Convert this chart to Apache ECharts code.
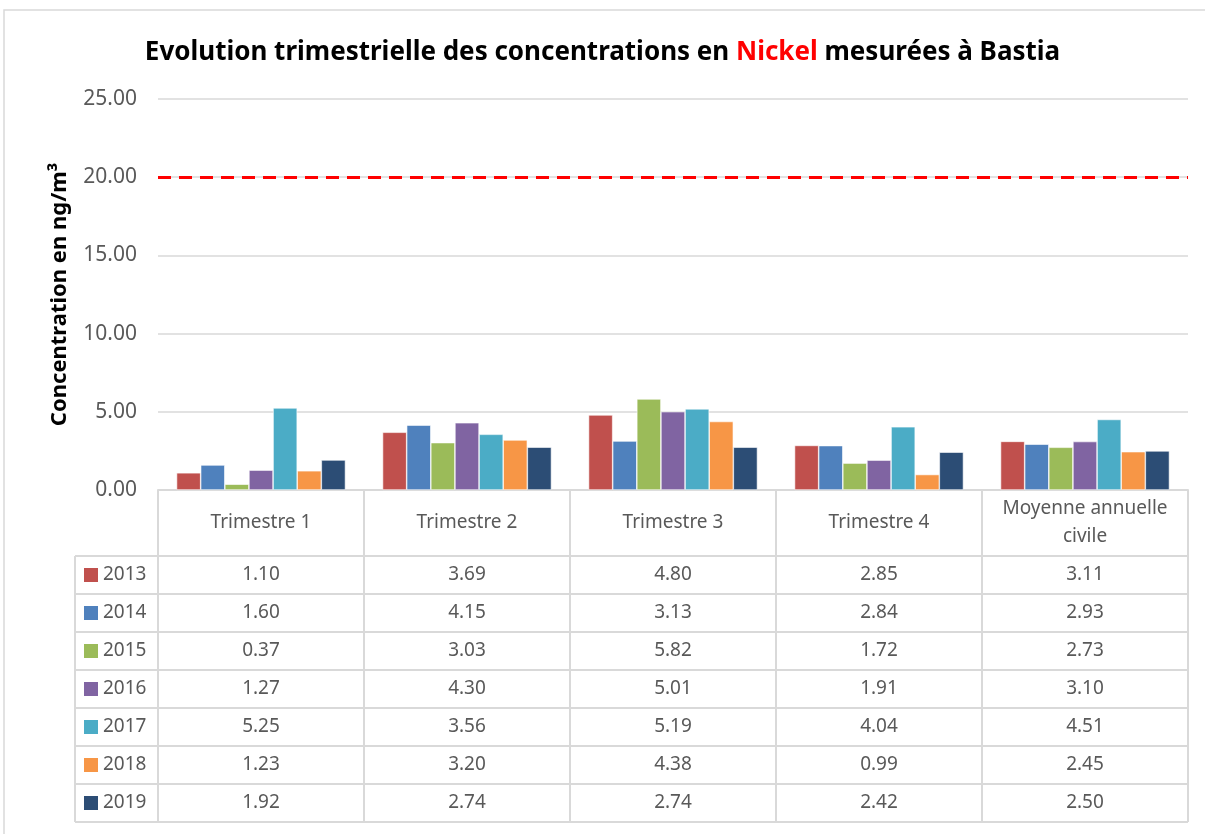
<!DOCTYPE html>
<html>
<head>
<meta charset="utf-8">
<script src="https://cdn.jsdelivr.net/npm/echarts@6/dist/echarts.min.js"></script>
<style>
html,body{margin:0;padding:0;background:#fff;}
#main{width:1205px;height:834px;}
</style>
</head>
<body>
<div id="main"></div>
<script>
/* donnees */
var categories = ['Trimestre 1', 'Trimestre 2', 'Trimestre 3', 'Trimestre 4', 'Moyenne annuelle\ncivile'];
var years = ['2013', '2014', '2015', '2016', '2017', '2018', '2019'];
var v2013 = [1.10, 3.69, 4.80, 2.85, 3.11];
var v2014 = [1.60, 4.15, 3.13, 2.84, 2.93];
var v2015 = [0.37, 3.03, 5.82, 1.72, 2.73];
var v2016 = [1.27, 4.30, 5.01, 1.91, 3.10];
var v2017 = [5.25, 3.56, 5.19, 4.04, 4.51];
var v2018 = [1.23, 3.20, 4.38, 0.99, 2.45];
var v2019 = [1.92, 2.74, 2.74, 2.42, 2.50];
var seuil = 20;
var colors = ['#C0504D', '#4F81BD', '#9BBB59', '#8064A2', '#4BACC6', '#F79646', '#2C4D75'];

var values = [v2013, v2014, v2015, v2016, v2017, v2018, v2019];

/* mise en page */
var plotLeft = 158, plotRight = 1188, plotTop = 99, plotBottom = 490;
var legLeft = 75, headH = 66, rowH = 38;
var colW = (plotRight - plotLeft) / categories.length;
var lineColor = '#D9D9D9';
var txtColor = '#595959';
var font = '"Noto Sans", sans-serif';
var tableFont = '19px ' + font;

var graphics = [];
// cadre exterieur
graphics.push({type:'rect', shape:{x:4, y:10, width:1220, height:850}, style:{fill:null, stroke:'#D9D9D9', lineWidth:1.5}, silent:true});

function hline(x1, x2, y){
	graphics.push({type:'line', shape:{x1:x1, y1:y, x2:x2, y2:y}, style:{stroke:lineColor, lineWidth:2}, silent:true});
}
function vline(x, y1, y2){
	graphics.push({type:'line', shape:{x1:x, y1:y1, x2:x, y2:y2}, style:{stroke:lineColor, lineWidth:2}, silent:true});
}
var tableBottom = plotBottom + headH + rowH * years.length;
// lignes horizontales
hline(legLeft, plotRight, plotBottom + headH);
for (var r = 1; r <= years.length; r++) {
	hline(legLeft, plotRight, plotBottom + headH + rowH * r);
}
// lignes verticales
vline(legLeft, plotBottom + headH, tableBottom);
for (var c = 0; c <= categories.length; c++) {
	vline(plotLeft + colW * c, plotBottom, tableBottom);
}
// entetes
for (var c = 0; c < categories.length; c++) {
	graphics.push({type:'text', x: plotLeft + colW * (c + 0.5), y: plotBottom + headH / 2,
		style:{text: categories[c], fill: txtColor, font: tableFont, align:'center', verticalAlign:'middle', lineHeight:28},
		silent:true});
}
// lignes de donnees
for (var r = 0; r < years.length; r++) {
	var yc = plotBottom + headH + rowH * (r + 0.5);
	graphics.push({type:'rect', shape:{x:84, y:yc - 7, width:14, height:14}, style:{fill: colors[r]}, silent:true});
	graphics.push({type:'text', x:103, y:yc, style:{text: years[r], fill: txtColor, font: tableFont, align:'left', verticalAlign:'middle'}, silent:true});
	for (var c = 0; c < categories.length; c++) {
		graphics.push({type:'text', x: plotLeft + colW * (c + 0.5), y: yc,
			style:{text: values[r][c].toFixed(2), fill: txtColor, font: tableFont, align:'center', verticalAlign:'middle'},
			silent:true});
	}
}

var series = [];
for (var i = 0; i < years.length; i++) {
	series.push({
		name: years[i],
		type: 'bar',
		data: values[i],
		barGap: '0%',
		barCategoryGap: '18%',
		itemStyle: {color: colors[i], borderColor:'#fff', borderWidth:0.6},
		silent: true
	});
}
series[0].markLine = {
	symbol: 'none',
	silent: true,
	label: {show:false},
	lineStyle: {color:'#FF0000', type:[13, 8], width:3},
	data: [{yAxis: seuil}]
};

var mychart = echarts.init(document.getElementById('main'));
var option = {
	animation: false,
	color: colors,
	title: {
		text: '{a|Evolution trimestrielle des concentrations en }{r|Nickel}{a| mesurées à Bastia}',
		left: 'center',
		top: 35,
		textStyle: {
			rich: {
				a: {fontFamily: font, fontWeight:'bold', fontSize:26, color:'#000'},
				r: {fontFamily: font, fontWeight:'bold', fontSize:26, color:'#FF0000'}
			}
		}
	},
	grid: {left: plotLeft, right: 1205 - plotRight, top: plotTop, bottom: 834 - plotBottom},
	xAxis: {
		type: 'category',
		data: categories,
		axisLine: {show:true, lineStyle:{color:lineColor, width:2}},
		axisTick: {show:false},
		axisLabel: {show:false}
	},
	yAxis: {
		type: 'value',
		min: 0,
		max: 25,
		interval: 5,
		name: 'Concentration en ng/m³',
		nameLocation: 'middle',
		nameGap: 87,
		nameTextStyle: {fontFamily: font, fontWeight:'bold', fontSize:22, color:'#000'},
		axisLine: {show:false},
		axisTick: {show:false},
		axisLabel: {
			formatter: function(v){ return v.toFixed(2); },
			fontFamily: font, fontSize: 21, color: txtColor, margin: 21
		},
		splitLine: {lineStyle:{color:lineColor, width:1.5}}
	},
	graphic: graphics,
	series: series
};
mychart.setOption(option);
</script>
</body>
</html>
